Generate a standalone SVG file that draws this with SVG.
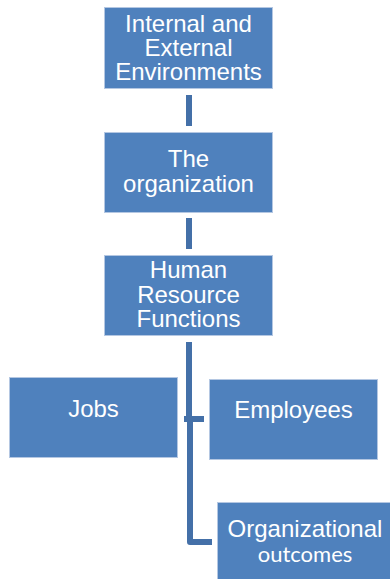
<svg xmlns="http://www.w3.org/2000/svg" width="390" height="579" viewBox="0 0 390 579">
<style>
.box{fill:#4f81bd;stroke:#b4c7e2;stroke-width:1}
.t{font-family:"Liberation Sans",Arial,sans-serif;font-size:24px;fill:#ffffff;text-anchor:middle}
.t2{font-family:Lato,"Open Sans",sans-serif;font-size:22px;fill:#ffffff;text-anchor:middle}
.c{fill:none;stroke:#4470a8;stroke-width:6;stroke-linejoin:round}
</style>
<rect width="390" height="579" fill="#ffffff"/>
<g id="connectors">
<line class="c" x1="189" y1="95" x2="189" y2="126"/>
<line class="c" x1="189" y1="218" x2="189" y2="249"/>
<path class="c" d="M189,342 V419"/>
<path class="c" d="M184,419 H204"/>
<path class="c" d="M190,419 V542 H212"/>
</g>
<g id="n1">
<rect class="box" x="104.5" y="7.5" width="168" height="81"/>
<text class="t" x="188.5" y="32">Internal and</text>
<text class="t" x="188.5" y="56">External</text>
<text class="t" x="188.5" y="80">Environments</text>
</g>
<g id="n2">
<rect class="box" x="104.5" y="132.5" width="168" height="80"/>
<text class="t" x="188.5" y="167">The</text>
<text class="t" x="188.5" y="192">organization</text>
</g>
<g id="n3">
<rect class="box" x="104.5" y="255.5" width="168" height="80"/>
<text class="t" x="188.5" y="278">Human</text>
<text class="t" x="188.5" y="303">Resource</text>
<text class="t" x="188.5" y="327">Functions</text>
</g>
<g id="n4">
<rect class="box" x="9.5" y="377.5" width="168" height="80"/>
<text class="t" x="93.5" y="417">Jobs</text>
</g>
<g id="n5">
<rect class="box" x="209.5" y="379.5" width="168" height="80"/>
<text class="t" x="293.5" y="418">Employees</text>
</g>
<g id="n6">
<rect class="box" x="217.5" y="502.5" width="176" height="90"/>
<text class="t" x="305" y="537">Organizational</text>
<text class="t2" x="305" y="562">outcomes</text>
</g>
</svg>
